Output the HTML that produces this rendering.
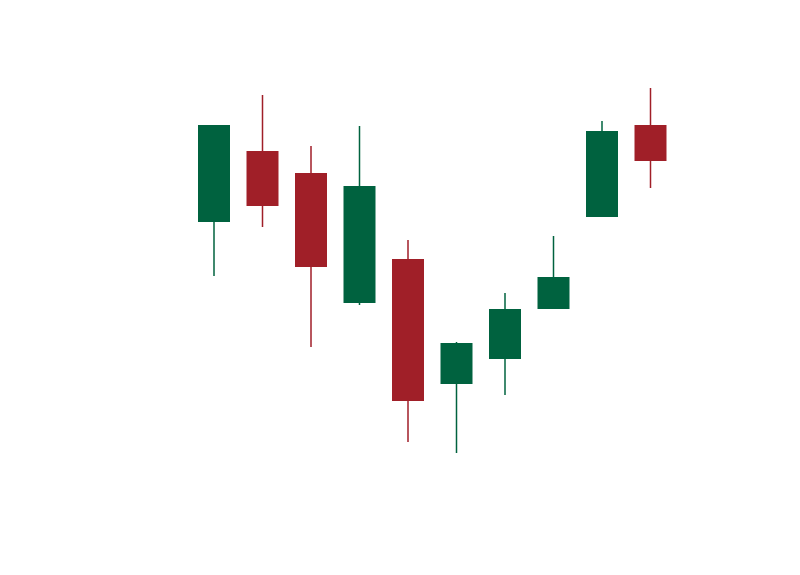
<!DOCTYPE html>
<html><head><meta charset="utf-8"><style>
html,body{margin:0;padding:0;background:#fff;width:800px;height:575px;overflow:hidden}
svg{display:block}
</style></head><body>
<svg id="chart" width="800" height="575" xmlns="http://www.w3.org/2000/svg"></svg>
<script>
const categories=[1,2,3,4,5,6,7,8,9,10];
const openValues=[64.5,82.25,76.75,44.25,55.25,24,30.25,42.75,65.75,88.75];
const highValues=[88.75,96.25,83.5,88.5,60,34.5,46.75,61,89.75,98];
const lowValues=[51,63.25,33.25,43.75,9.5,6.75,21.25,42.75,65.75,73];
const closeValues=[88.75,68.5,53.25,73.5,19.75,34.25,42.75,50.75,87.25,79.75];

const svg=document.getElementById('chart');
const NS='http://www.w3.org/2000/svg';
function yScale(v){return 480-v*4;}
function xScale(i){return 214+i*48.5;}
const bw=32;
categories.forEach((c,i)=>{
  const o=openValues[i],h=highValues[i],l=lowValues[i],cl=closeValues[i];
  const up=cl>=o;
  const col=up?'#00623f':'#a01f28';
  const g=document.createElementNS(NS,'g');
  
  
  const w=document.createElementNS(NS,'line');
  
  
  w.setAttribute('x1',xScale(i));w.setAttribute('x2',xScale(i));
  w.setAttribute('y1',yScale(h));w.setAttribute('y2',yScale(l));
  w.setAttribute('stroke',col);w.setAttribute('stroke-width','1.5');
  g.appendChild(w);
  const r=document.createElementNS(NS,'rect');
  
  
  r.setAttribute('x',xScale(i)-bw/2);
  r.setAttribute('y',yScale(Math.max(o,cl)));
  r.setAttribute('width',bw);
  r.setAttribute('height',Math.max(1,Math.abs(yScale(o)-yScale(cl))));
  r.setAttribute('fill',col);
  g.appendChild(r);
  svg.appendChild(g);
});
</script>
</body></html>
